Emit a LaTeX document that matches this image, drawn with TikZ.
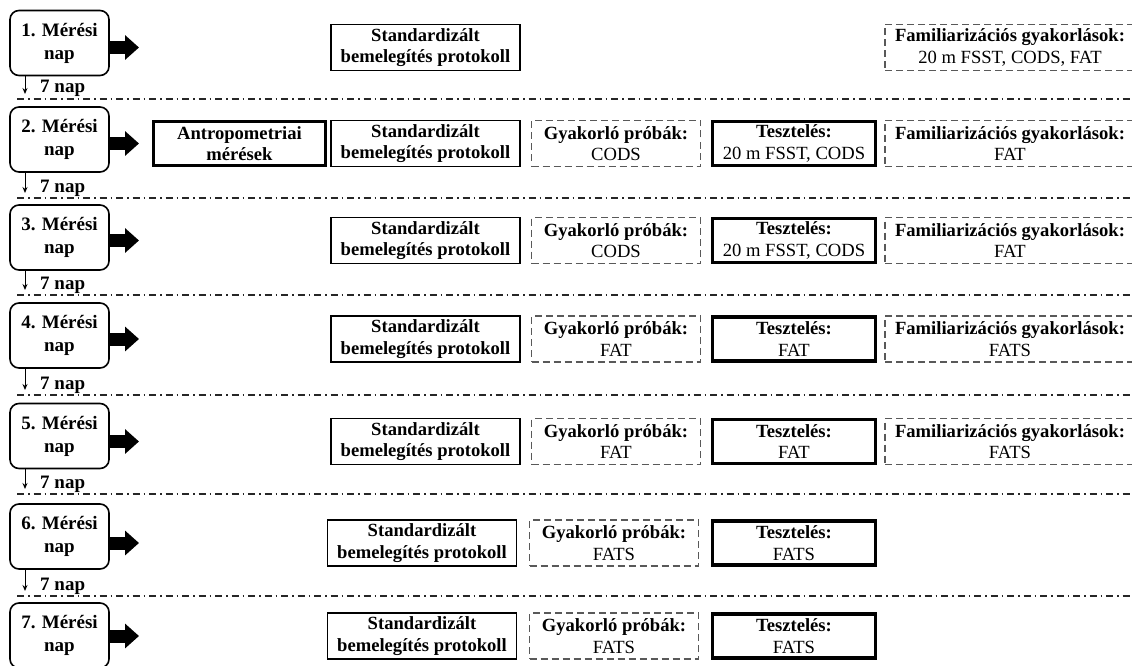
\documentclass[tikz,border=0pt]{standalone}
\usepackage{fontspec}
\setmainfont{Liberation Serif}
\usetikzlibrary{arrows.meta}

\begin{document}
\begin{tikzpicture}[x=1pt,y=-1pt,
  daybox/.style={draw,rounded corners=9pt,line width=1.6pt,minimum width=99pt,minimum height=65pt,align=center,inner sep=0pt,font=\fontsize{19}{23}\selectfont\bfseries},
  plainbox/.style={draw,line width=1.3pt,minimum height=46pt,align=center,inner sep=0pt,font=\fontsize{18.6}{21.5}\selectfont},
  stdbox/.style={plainbox,minimum width=189pt,font=\fontsize{18.6}{21.5}\selectfont\bfseries},
  testbox/.style={plainbox,line width=3.2pt,minimum width=163pt,minimum height=44pt},
  trialbox/.style={plainbox,draw=black!65,dash pattern=on 7pt off 4pt,minimum width=169pt},
  sepline/.style={line width=1.5pt,draw=black!85,dash pattern=on 7pt off 4pt on 1.5pt off 4pt},
  bigarrow/.style={line width=13pt,-{Triangle[length=14pt,width=24pt]}},
  weekarrow/.style={line width=1pt,-{Stealth[length=6pt,width=5pt]}}
]
  \useasboundingbox (0,0) rectangle (1132,666);

  % day boxes and their arrows
  \foreach \n/\y/\r in {1/43/47.5,2/139.5/143.5,3/237.5/240.5,4/335.5/339,5/436/441.5,6/536.5/543,7/635.5/636} {
    \node[daybox] (day\n) at (59.5,\y) {\n. Mérési\\nap};
    \coordinate (tip\n) at (139,\r);
    \draw[bigarrow] (day\n.east |- tip\n) -- (tip\n);
  }

  % 7 nap between the days, separator lines
  \foreach \n/\y in {1/99,2/198,3/295,4/395,5/494,6/596} {
    \coordinate (wk\n) at (25,\y-5);
    \draw[weekarrow] (day\n.south -| wk\n) -- (wk\n);
    \node[anchor=base west,inner sep=0pt,font=\fontsize{19}{23}\selectfont\bfseries] (nap\n) at (40,\y-6) {7 nap};
    \draw[sepline] (17,\y) -- (1132,\y);
  }

  % warm-up
  \foreach \n/\x/\r in {1/425.5/47.5,2/425.5/143.5,3/425.5/240.5,4/425.5/339,5/425.5/441.5,6/422/543,7/422/636} {
    \node[stdbox] (std\n) at (\x,\r) {Standardizált\\bemelegítés protokoll};
  }

  \node[plainbox,line width=3.2pt,minimum width=172pt,minimum height=44pt,font=\fontsize{18.6}{21.5}\selectfont\bfseries] (antro) at (239.5,143.5) {Antropometriai\\mérések};

  % practice trials
  \foreach \n/\x/\r/\t in {2/616/143.5/CODS,3/616/240.5/CODS,4/616/339/FAT,5/616/441.5/FAT,6/614/543/FATS,7/614/636/FATS} {
    \node[trialbox] (trial\n) at (\x,\r) {\textbf{Gyakorló próbák:}\\\t};
  }

  % testing
  \foreach \n/\r/\t in {2/143.5/{20 m FSST, CODS},3/240.5/{20 m FSST, CODS},4/339/FAT,5/441.5/FAT,6/543/FATS,7/636/FATS} {
    \node[testbox] (test\n) at (794,\r) {\textbf{Tesztelés:}\\\t};
  }

  % familiarization
  \foreach \n/\r/\t in {1/47.5/{20 m FSST, CODS, FAT},2/143.5/FAT,3/240.5/FAT,4/339/FATS,5/441.5/FATS} {
    \node[trialbox,minimum width=250pt] (fam\n) at (1010,\r) {\textbf{Familiarizációs gyakorlások:}\\\t};
  }

\end{tikzpicture}
\end{document}
